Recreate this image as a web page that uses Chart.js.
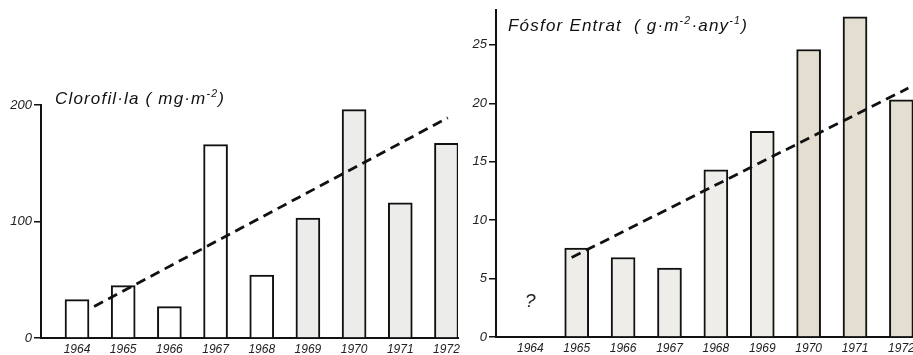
<!DOCTYPE html>
<html>
<head>
<meta charset="utf-8">
<script src="https://cdn.jsdelivr.net/npm/chart.js@4.4.1/dist/chart.umd.min.js"></script>
<style>
html,body{margin:0;padding:0;background:#fff;overflow:hidden;width:913px;height:355px;}
#l{position:absolute;left:0;top:0;}
#r{position:absolute;left:460px;top:0;}
</style>
</head>
<body>
<canvas id="l" width="472" height="355"></canvas>
<canvas id="r" width="480" height="355"></canvas>
<script>
// ---- data ----
const yearsAll = [1964, 1965, 1966, 1967, 1968, 1969, 1970, 1971, 1972];
const chlYears = [1964, 1965, 1966, 1967, 1968, 1969, 1970, 1971, 1972];
const chlValues = [33, 45, 27, 166, 54, 103, 196, 116, 167];
const chlTrendYears = [1964.37, 1972.03];
const chlTrendValues = [27, 189];
const chlTicks = [0, 100, 200];

const pYears = [1965, 1966, 1967, 1968, 1969, 1970, 1971, 1972];
const pValues = [7.6, 6.8, 5.9, 14.3, 17.6, 24.6, 27.4, 20.3];
const pTrendYears = [1964.89, 1972.15];
const pTrendValues = [6.8, 21.3];
const pTicks = [0, 5, 10, 15, 20, 25];

const chlTitle = [["Clorofil·la ( mg·m", false], ["-2", true], [")", false]];
const pTitle = [["Fósfor Entrat  ( g·m", false], ["-2", true], ["·any", false], ["-1", true], [")", false]];
const missingMark = "?";

const FONT = '"Liberation Sans", Arial, sans-serif';

function pts(xs, ys){ return xs.map((x,i)=>({x:x, y:ys[i]})); }

function drawTitle(ctx, parts, x, base, size, target){
  ctx.save();
  ctx.fillStyle = '#111';
  ctx.textBaseline = 'alphabetic';
  ctx.textAlign = 'left';
  let w = 0, n = 0;
  parts.forEach(([t, sup]) => {
    ctx.font = 'italic ' + (sup ? size*0.62 : size) + 'px ' + FONT;
    w += ctx.measureText(t).width; n += t.length;
  });
  const ls = Math.max(0, (target - w) / n);
  let cx = x;
  parts.forEach(([t, sup]) => {
    ctx.font = 'italic ' + (sup ? size*0.62 : size) + 'px ' + FONT;
    for (const ch of t) {
      ctx.fillText(ch, cx, sup ? base - size*0.42 : base);
      cx += ctx.measureText(ch).width + ls;
    }
  });
  ctx.restore();
}

function makeChart(id, cfg){
  return new Chart(document.getElementById(id), {
    type: 'bar',
    data: {
      datasets: [
        {
          type: 'line',
          data: pts(cfg.trendX, cfg.trendY),
          borderColor: '#111',
          borderWidth: 2.8,
          borderDash: [10, 6],
          pointRadius: 0,
          fill: false,
          order: 0
        },
        {
          type: 'bar',
          data: pts(cfg.barX, cfg.barY),
          backgroundColor: c => cfg.fill(c.raw ? c.raw.x : 0),
          borderColor: '#111',
          borderWidth: 2,
          borderSkipped: 'start',
          barThickness: 24,
          order: 1
        }
      ]
    },
    options: {
      responsive: false,
      animation: false,
      events: [],
      layout: { padding: { top: cfg.padTop, right: cfg.padRight, left: 0, bottom: 0 } },
      plugins: { legend: { display: false }, tooltip: { enabled: false } },
      scales: {
        x: {
          type: 'linear',
          offset: false,
          min: cfg.xmin, max: cfg.xmax,
          afterBuildTicks: s => { s.ticks = yearsAll.map(v => ({ value: v })); },
          afterFit: s => { s.height = cfg.xH; },
          grid: { display: true, drawOnChartArea: false, drawTicks: false },
          border: { display: true, color: '#111', width: 2 },
          ticks: {
            autoSkip: false, maxRotation: 0, padding: 4,
            color: '#222',
            font: { family: FONT, size: 12, style: 'italic' },
            callback: v => String(v)
          }
        },
        y: {
          type: 'linear',
          min: 0, max: cfg.ymax,
          afterBuildTicks: s => { s.ticks = cfg.yticks.map(v => ({ value: v })); },
          afterFit: s => { s.width = cfg.yW; },
          grid: { display: true, drawOnChartArea: false, drawTicks: true, tickLength: 7, color: '#111', lineWidth: 1.5 },
          border: { display: true, color: '#111', width: 2 },
          ticks: {
            padding: 2, color: '#222',
            font: { family: FONT, size: 13, style: 'italic' },
            callback: v => String(v)
          }
        }
      }
    },
    plugins: [{
      id: 'txt',
      afterDraw(chart){
        const ctx = chart.ctx;
        drawTitle(ctx, cfg.title, cfg.tx, cfg.tb, 17, cfg.tw);
        if (cfg.mark) {
          ctx.save();
          ctx.font = 'italic 19px ' + FONT;
          ctx.fillStyle = '#222';
          ctx.textAlign = 'center';
          ctx.textBaseline = 'middle';
          ctx.fillText(missingMark, chart.scales.x.getPixelForValue(1964), chart.scales.y.getPixelForValue(3));
          ctx.restore();
        }
      }
    }]
  });
}

makeChart('l', {
  barX: chlYears, barY: chlValues, trendX: chlTrendYears, trendY: chlTrendValues,
  xmin: 1963.22, xmax: 1972.25, ymax: 200, yticks: chlTicks,
  padTop: 105, padRight: 14, xH: 17, yW: 41,
  fill: yr => yr >= 1969 ? '#ececea' : '#ffffff',
  title: chlTitle, tx: 55, tb: 104, tw: 170, mark: false
});

makeChart('r', {
  barX: pYears, barY: pValues, trendX: pTrendYears, trendY: pTrendValues,
  xmin: 1963.26, xmax: 1972.25, ymax: 28, yticks: pTicks,
  padTop: 9, padRight: 27, xH: 18, yW: 36,
  fill: yr => yr >= 1970 ? '#e4ded1' : '#eeedea',
  title: pTitle, tx: 48, tb: 31, tw: 240, mark: true
});
</script>
</body>
</html>
